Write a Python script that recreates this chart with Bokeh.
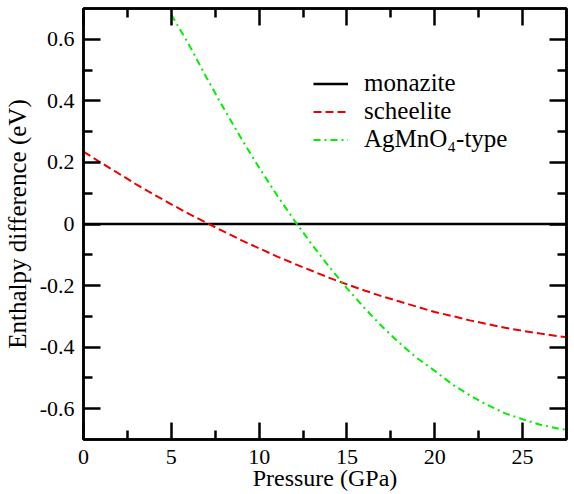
from bokeh.plotting import figure
from bokeh.models import (Range1d, LinearAxis, FixedTicker, CustomJSTickFormatter,
                          Legend, LegendItem)
from bokeh.embed import file_html
from bokeh.resources import INLINE

# ---- data ----
pressure_monazite = [0.0, 27.5]
dH_monazite = [0.0, 0.0]

pressure_scheelite = [0, 1, 2, 3, 4, 5, 6, 7, 8, 9, 10, 11, 12, 13, 14, 15, 16,
                      17, 18, 19, 20, 21, 22, 23, 24, 25, 26, 27, 27.5]
dH_scheelite = [0.235, 0.199, 0.164, 0.129, 0.096, 0.064, 0.033, 0.004, -0.025,
                -0.053, -0.079, -0.105, -0.129, -0.152, -0.175, -0.196, -0.216,
                -0.235, -0.252, -0.269, -0.286, -0.299, -0.313, -0.325, -0.337,
                -0.347, -0.356, -0.364, -0.368]

pressure_agmno4 = [5, 6, 7, 8, 9, 10, 11, 12, 13, 14, 15, 16, 17, 18, 19, 20,
                   21, 22, 23, 24, 25, 26, 27, 27.5]
dH_agmno4 = [0.680, 0.583, 0.476, 0.374, 0.276, 0.183, 0.095, 0.012, -0.066,
             -0.140, -0.209, -0.273, -0.333, -0.387, -0.436, -0.477, -0.521,
             -0.557, -0.588, -0.615, -0.634, -0.652, -0.664, -0.669]

x_major = [0, 5, 10, 15, 20, 25]
x_minor = [2.5, 7.5, 12.5, 17.5, 22.5]
y_major = [-0.6, -0.4, -0.2, 0, 0.2, 0.4, 0.6]
y_minor = [-0.5, -0.3, -0.1, 0.1, 0.3, 0.5]

FONT = "Liberation Serif"

p = figure(width=574, height=494, output_backend="svg", toolbar_location=None,
           x_range=Range1d(0, 27.5), y_range=Range1d(-0.7, 0.7),
           min_border_left=81, min_border_right=8, min_border_top=8,
           min_border_bottom=55)
p.xgrid.visible = False
p.ygrid.visible = False
p.background_fill_color = "white"
p.border_fill_color = "white"
p.outline_line_color = "black"
p.outline_line_width = 2.5

r_mon = p.line(pressure_monazite, dH_monazite, line_color="black", line_width=2.5)
r_sch = p.line(pressure_scheelite, dH_scheelite, line_color="#ee0000",
               line_width=2, line_dash="8 4")
r_agm = p.line(pressure_agmno4, dH_agmno4, line_color="#00ee00",
               line_width=2, line_dash="7 4 2 4")

xt = FixedTicker(ticks=x_major, minor_ticks=x_minor)
yt = FixedTicker(ticks=y_major, minor_ticks=y_minor)
yfmt = CustomJSTickFormatter(code="return Math.abs(tick) < 1e-9 ? '0' : tick.toFixed(1);")


def style_axis(ax, show_labels):
    ax.axis_line_width = 2.5
    ax.major_tick_line_width = 2.5
    ax.minor_tick_line_width = 2.5
    ax.major_tick_in = 17
    ax.major_tick_out = 0
    ax.minor_tick_in = 9
    ax.minor_tick_out = 0
    ax.major_label_text_font = FONT
    ax.axis_label_text_font = FONT
    ax.axis_label_text_font_style = "normal"
    ax.major_label_text_color = "black"
    ax.axis_label_text_color = "black"
    if not show_labels:
        ax.major_label_standoff = 0
        ax.axis_label_standoff = 0
        ax.major_label_text_font_size = "1px"
        ax.major_label_text_alpha = 0


xa = p.xaxis[0]
xa.ticker = xt
style_axis(xa, True)
xa.major_label_text_font_size = "22px"
xa.major_label_standoff = 10
xa.axis_label = "Pressure (GPa)"
xa.axis_label_text_font_size = "24px"
xa.axis_label_standoff = -2

ya = p.yaxis[0]
ya.ticker = yt
ya.formatter = yfmt
style_axis(ya, True)
ya.major_label_text_font_size = "22px"
ya.major_label_standoff = 9
ya.axis_label = "Enthalpy difference (eV)"
ya.axis_label_text_font_size = "25px"
ya.axis_label_standoff = 6

top = LinearAxis(ticker=FixedTicker(ticks=x_major, minor_ticks=x_minor))
style_axis(top, False)
p.add_layout(top, "above")
right = LinearAxis(ticker=FixedTicker(ticks=y_major, minor_ticks=y_minor),
                   formatter=CustomJSTickFormatter(
                       code="return Math.abs(tick) < 1e-9 ? '0' : tick.toFixed(1);"))
style_axis(right, False)
p.add_layout(right, "right")

legend = Legend(items=[LegendItem(label="monazite", renderers=[r_mon]),
                       LegendItem(label="scheelite", renderers=[r_sch]),
                       LegendItem(label="AgMnO\u2084-type", renderers=[r_agm])],
                location=(230, 286))
legend.border_line_color = None
legend.background_fill_alpha = 0
legend.padding = 0
legend.margin = 0
legend.spacing = -4
legend.glyph_width = 35
legend.glyph_height = 25
legend.label_height = 25
legend.label_standoff = 16
legend.label_text_font = FONT
legend.label_text_font_size = "25px"
legend.label_text_color = "black"
p.add_layout(legend)

open("out.html", "w").write(file_html(p, INLINE))
